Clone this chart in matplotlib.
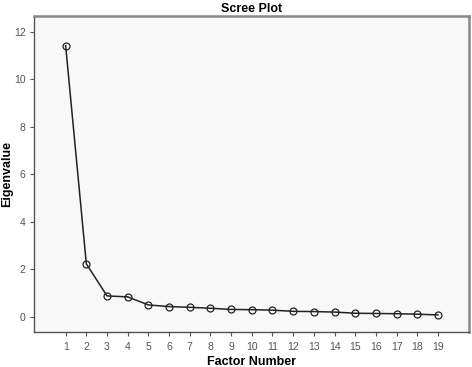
import matplotlib
matplotlib.use('Agg')
import matplotlib.pyplot as plt

factors = list(range(1, 20))
eigenvalues = [11.41, 2.22, 0.87, 0.83, 0.49, 0.42, 0.39, 0.35, 0.30, 0.29,
               0.27, 0.22, 0.21, 0.19, 0.14, 0.13, 0.12, 0.10, 0.07]
yticks = [0, 2, 4, 6, 8, 10, 12]

plt.rcParams['font.family'] = ['Liberation Sans', 'DejaVu Sans']

fig = plt.figure(figsize=(4.72, 3.67), dpi=100)
ax = fig.add_axes([34 / 472, 1 - 332 / 367, 435 / 472, 316 / 367])
ax.set_facecolor('#f8f8f8')

ax.plot(factors, eigenvalues, color='#222222', linewidth=1.1,
        marker='o', markersize=5, markerfacecolor='none',
        markeredgecolor='#222222', markeredgewidth=0.9)

ax.set_xlim(-0.53, 20.5)
ax.set_ylim(-0.65, 12.66)
ax.set_xticks(factors)
ax.set_yticks(yticks)
ax.tick_params(colors='#555555', labelsize=7.5, length=3, width=0.8, pad=3)
ax.tick_params(axis='x', pad=4)

for side in ['left', 'bottom']:
    ax.spines[side].set_color('#555555')
    ax.spines[side].set_linewidth(1.0)
for side in ['top', 'right']:
    ax.spines[side].set_color('#888888')
    ax.spines[side].set_linewidth(1.8)

ax.set_title('Scree Plot', fontsize=9, fontweight='bold', pad=3)
ax.set_xlabel('Factor Number', fontsize=9, fontweight='bold', va='center')
ax.set_ylabel('Eigenvalue', fontsize=9, fontweight='bold', va='center')
ax.xaxis.set_label_coords(0.5, (332 - 362) / 316)
ax.yaxis.set_label_coords((7 - 34) / 435, 0.5)

fig.savefig('out.png', dpi=100)
